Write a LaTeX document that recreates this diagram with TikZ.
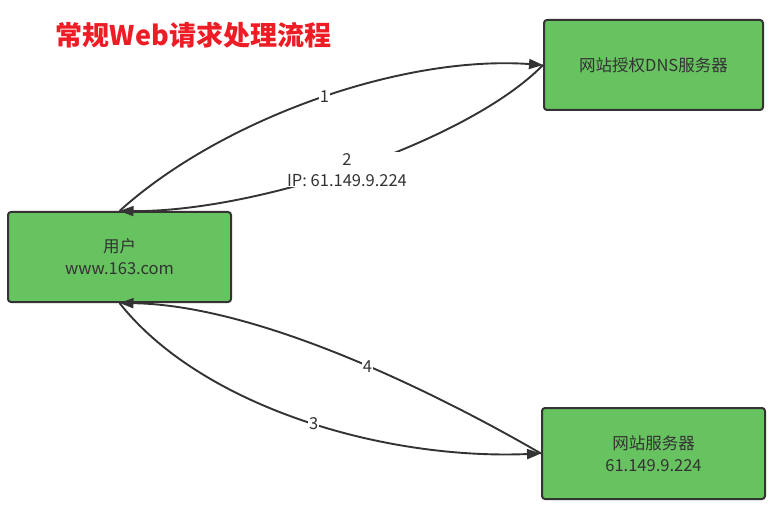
\documentclass[tikz,border=0pt]{standalone}
\usepackage{fontspec}
\setmainfont{Noto Sans CJK SC}
\newfontfamily\cjk{Noto Sans CJK SC}
\usetikzlibrary{arrows.meta}
\definecolor{boxgreen}{RGB}{103,194,96}
\definecolor{linegray}{RGB}{51,51,51}
\definecolor{titlered}{RGB}{238,28,37}
\tikzset{
  box/.style={draw=linegray, fill=boxgreen, line width=2pt, rounded corners=3pt, align=center, text=linegray, font=\cjk\fontsize{16.5}{22}\selectfont},
  conn/.style={draw=linegray, line width=1.9pt, -{Triangle[length=14pt,width=10pt]}},
  lbl/.style={fill=white, text=linegray, inner sep=1pt, align=center, font=\cjk\fontsize{16.5}{21}\selectfont}
}
\begin{document}
\begin{tikzpicture}[x=1pt,y=-1pt]
\useasboundingbox (0,0) rectangle (776,505);
\node[font=\cjk\bfseries\fontsize{27}{30}\selectfont, text=titlered] (title) at (193.5,35) {常规Web请求处理流程};
\node[box, minimum width=223pt, minimum height=90pt] (user) at (119.5,257) {用户\\www.163.com};
\node[box, minimum width=219pt, minimum height=90pt] (dns) at (653.5,65) {网站授权DNS服务器};
\node[box, minimum width=223pt, minimum height=91pt] (web) at (653.5,453.5) {网站服务器\\61.149.9.224};
\draw[conn] (user.north) .. controls (220,120) and (400,55) .. node[lbl, pos=0.52] {1} (dns.west);
\draw[conn] (dns.west) .. controls (470,140) and (260,212) .. node[lbl, pos=0.52] {2\\IP: 61.149.9.224} (user.north);
\draw[conn] (user.south) .. controls (200,405) and (380,460) .. node[lbl, pos=0.53] {3} (web.west);
\draw[conn] (web.west) .. controls (440,395) and (260,305) .. node[lbl, pos=0.45] {4} (user.south);
\end{tikzpicture}
\end{document}
